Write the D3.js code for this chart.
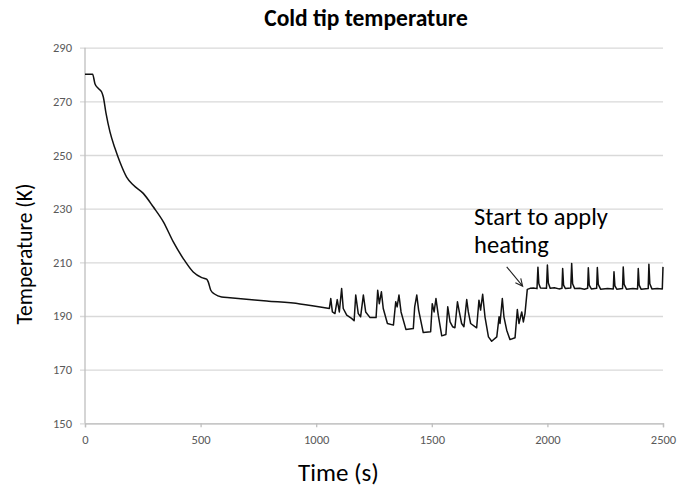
<!DOCTYPE html>
<html>
<head>
<meta charset="utf-8">
<script src="https://cdn.jsdelivr.net/npm/d3@7/dist/d3.min.js"></script>
<style>
  html, body { margin: 0; padding: 0; background: #fff; }
  svg { display: block; }
  text { font-family: Carlito, Lato, "Open Sans", sans-serif; }
</style>
</head>
<body>
<svg id="chart" width="690" height="489"></svg>
<script>
// Cold tip temperature log: time (s) and temperature (K)
const coolDownTime = [0, 33, 43, 58, 72, 79, 91, 108, 130, 151, 180, 209, 252, 295, 339, 382, 425, 468, 505, 526, 533, 544, 562, 591, 627, 786, 930, 1057];
const coolDownTemp = [280.1, 280.1, 276.6, 274.8, 273.5, 271.7, 265.5, 258.6, 252.4, 247.4, 241.8, 238.8, 235.7, 230.7, 225.1, 217.6, 211.4, 206.4, 204.3, 203.7, 202.7, 199.6, 198.1, 197.1, 196.8, 195.6, 194.5, 192.8];

const cyclingTime = [1063, 1070, 1081, 1091, 1100, 1110, 1117, 1132, 1153, 1164, 1171, 1182, 1192, 1204, 1214, 1233, 1259, 1266, 1273, 1282, 1290, 1308, 1334, 1344, 1350, 1358, 1367, 1388, 1420, 1426, 1435, 1443, 1463, 1495, 1502, 1510, 1518, 1528, 1543, 1561, 1569, 1579, 1590, 1600, 1611, 1619, 1629, 1639, 1651, 1658, 1668, 1694, 1704, 1711, 1720, 1730, 1745, 1759, 1781, 1791, 1795, 1805, 1812, 1824, 1838, 1860, 1870, 1877, 1889, 1896, 1903];
const cyclingTemp = [196.5, 191.5, 190.9, 196.1, 191.5, 200.2, 192.8, 190.3, 189.1, 188.2, 197.8, 190.9, 189.7, 197.8, 191.5, 189.4, 189.4, 199.6, 194.6, 199, 192.8, 187.2, 186.6, 195.3, 193.4, 197.8, 191.5, 185, 185.3, 193.4, 197.8, 192.2, 183.8, 184.1, 194.6, 191.5, 196.5, 190.3, 182.6, 183.1, 193.4, 187.8, 186, 185.6, 195.3, 191.5, 187.2, 186, 196.1, 191.5, 187.2, 185.6, 195.9, 192.2, 198.1, 189.7, 182.2, 180.6, 182.2, 189.7, 187.2, 196.5, 189.7, 184.7, 181.2, 181.9, 192.4, 187.2, 191.5, 187.8, 190.9];

const heatingTime = [1913, 1925, 1940, 1955, 1959, 1963, 1970, 1996, 2000, 2004, 2012, 2030, 2050, 2063, 2066, 2070, 2078, 2101, 2105, 2109, 2118, 2140, 2160, 2174, 2177, 2181, 2190, 2213, 2216, 2220, 2230, 2260, 2285, 2288, 2292, 2300, 2325, 2328, 2332, 2342, 2370, 2390, 2393, 2397, 2405, 2436, 2439, 2443, 2452, 2475, 2497, 2500];
const heatingTemp = [199.9, 200.3, 200.4, 200.2, 208.2, 202, 200.4, 200.3, 209, 202.3, 200.3, 200.5, 200.1, 200.3, 207.7, 201.5, 200.2, 200.4, 209.6, 202, 200.2, 200.3, 200, 200.3, 208, 201.5, 200.1, 200.3, 208.1, 201.8, 200, 200.2, 200.1, 206.5, 201.2, 200, 200.2, 208.3, 201.8, 200, 200.2, 200.1, 207.7, 201.5, 200, 200.2, 209.3, 202, 200.1, 200.2, 200.1, 208.3];

const xTicks = [0, 500, 1000, 1500, 2000, 2500];
const yTicks = [150, 170, 190, 210, 230, 250, 270, 290];

const titleText = "Cold tip temperature";
const xTitle = "Time (s)";
const yTitle = "Temperature (K)";
const noteLines = ["Start to apply", "heating"];
// annotation anchors in data units: text origin, arrow tail, arrow head
const noteAt = { t: 1683, T: 223.8, T2: 213.4 };
const arrowFrom = { t: 1824, T: 208.3 };
const arrowTo = { t: 1893, T: 201.1 };

const coolDown = coolDownTime.map((t, i) => ({ t, T: coolDownTemp[i] }));
const cycling = [coolDown[coolDown.length - 1],
  ...cyclingTime.map((t, i) => ({ t, T: cyclingTemp[i] })),
  ...heatingTime.map((t, i) => ({ t, T: heatingTemp[i] }))];

const svg = d3.select("#chart");
const W = 690, H = 489;
const margin = { left: 85, right: 27, top: 47.7, bottom: 65.7 };
const fontStack = "Carlito, Lato, 'Open Sans', sans-serif";

const x = d3.scaleLinear().domain([0, 2500]).range([margin.left, W - margin.right]);
const y = d3.scaleLinear().domain([150, 290]).range([H - margin.bottom, margin.top]);

// horizontal gridlines with left tick stubs
const yAxis = d3.axisLeft(y).tickValues(yTicks).tickSize(-(x.range()[1] - x.range()[0]) - 5).tickPadding(7).tickFormat(d3.format("d"));
const gy = svg.append("g").attr("transform", `translate(${margin.left - 5},0)`).call(yAxis);
gy.select(".domain").remove();
gy.selectAll(".tick line").attr("stroke", "#d9d9d9").attr("stroke-width", 1.3);
gy.selectAll(".tick text").attr("fill", "#595959").attr("font-size", 12.5)
  .attr("x", -8).style("font-family", fontStack);

// left axis line
svg.append("line")
  .attr("x1", x(0)).attr("x2", x(0))
  .attr("y1", y(290)).attr("y2", y(150))
  .attr("stroke", "#bfbfbf").attr("stroke-width", 1.3);

// bottom axis
const xAxis = d3.axisBottom(x).tickValues(xTicks).tickSize(4).tickPadding(8).tickFormat(d3.format("d"));
const gx = svg.append("g").attr("transform", `translate(0,${y(150)})`).call(xAxis);
gx.select(".domain").attr("stroke", "#bfbfbf").attr("stroke-width", 1.3);
gx.selectAll(".tick line").attr("stroke", "#bfbfbf").attr("stroke-width", 1.3);
gx.selectAll(".tick text").attr("fill", "#595959").attr("font-size", 12.5)
  .style("font-family", fontStack);

// temperature trace: smooth cool-down, then the cycling and heating phases
const smoothLine = d3.line().x(d => x(d.t)).y(d => y(d.T)).curve(d3.curveMonotoneX);
const straightLine = d3.line().x(d => x(d.t)).y(d => y(d.T));
svg.append("path")
  .attr("d", smoothLine(coolDown) + straightLine(cycling).replace(/^M/, "L"))
  .attr("fill", "none")
  .attr("stroke", "#111")
  .attr("stroke-width", 1.5)
  .attr("stroke-linejoin", "round");

// titles
svg.append("text")
  .attr("x", 366).attr("y", 26)
  .attr("text-anchor", "middle")
  .attr("font-weight", "bold").attr("font-size", 23.5)
  .text(titleText);

svg.append("text")
  .attr("x", 338.5).attr("y", 481)
  .attr("text-anchor", "middle")
  .attr("font-size", 25)
  .text(xTitle);

svg.append("text")
  .attr("transform", `translate(32,${254}) rotate(-90)`)
  .attr("text-anchor", "middle")
  .attr("font-size", 21.5)
  .text(yTitle);

// annotation
svg.append("text").attr("x", x(noteAt.t)).attr("y", y(noteAt.T)).attr("font-size", 24.5).text(noteLines[0]);
svg.append("text").attr("x", x(noteAt.t)).attr("y", y(noteAt.T2)).attr("font-size", 24.5).text(noteLines[1]);

const ax1 = x(arrowFrom.t), ay1 = y(arrowFrom.T), ax2 = x(arrowTo.t), ay2 = y(arrowTo.T);
const ang = Math.atan2(ay2 - ay1, ax2 - ax1);
const headLen = 8, headSpread = 0.45;
svg.append("path")
  .attr("d", `M${ax1},${ay1}L${ax2},${ay2}` +
    `M${ax2 - headLen * Math.cos(ang - headSpread)},${ay2 - headLen * Math.sin(ang - headSpread)}L${ax2},${ay2}` +
    `L${ax2 - headLen * Math.cos(ang + headSpread)},${ay2 - headLen * Math.sin(ang + headSpread)}`)
  .attr("fill", "none").attr("stroke", "#222").attr("stroke-width", 1.1);
</script>
</body>
</html>
